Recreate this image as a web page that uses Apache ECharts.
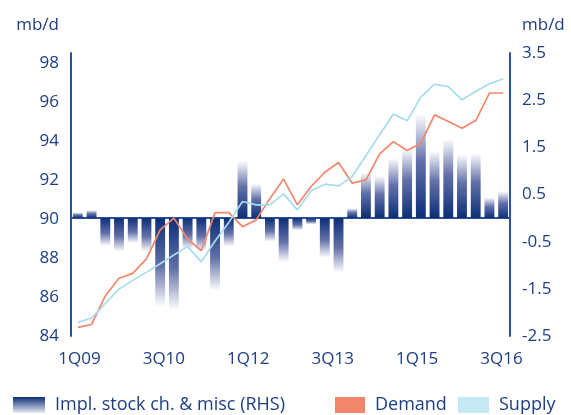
<!DOCTYPE html>
<html>
<head>
<meta charset="utf-8">
<script src="https://cdn.jsdelivr.net/npm/echarts@6/dist/echarts.min.js"></script>
<style>
  body { margin: 0; background: #fff; }
  #main { width: 571px; height: 415px; }
</style>
</head>
<body>
<div id="main"></div>
<script>
var quarters = ['1Q09','2Q09','3Q09','4Q09','1Q10','2Q10','3Q10','4Q10',
                '1Q11','2Q11','3Q11','4Q11','1Q12','2Q12','3Q12','4Q12',
                '1Q13','2Q13','3Q13','4Q13','1Q14','2Q14','3Q14','4Q14',
                '1Q15','2Q15','3Q15','4Q15','1Q16','2Q16','3Q16','4Q16'];

// implied stock change & misc, mb/d (right axis)
var stockChange = [0.12, 0.17, -0.59, -0.71, -0.53, -0.71, -1.88, -1.95,
                   -0.66, -0.70, -1.54, -0.60, 1.21, 0.73, -0.50, -0.93,
                   -0.26, -0.13, -0.84, -1.15, 0.21, 0.97, 0.90, 1.27,
                   1.47, 2.21, 1.43, 1.68, 1.35, 1.38, 0.44, 0.57];

// mb/d (left axis)
var demand = [84.44, 84.59, 86.05, 86.96, 87.21, 87.95, 89.44, 90.04,
              88.97, 88.37, 90.32, 90.32, 89.60, 89.95, 91.05, 92.04,
              90.72, 91.66, 92.39, 92.89, 91.83, 92.00, 93.33, 93.96,
              93.50, 93.88, 95.33, 94.99, 94.65, 95.04, 96.45, 96.45];

var supply = [84.70, 84.92, 85.67, 86.40, 86.85, 87.26, 87.70, 88.15,
              88.58, 87.80, 88.87, 89.82, 90.89, 90.72, 90.72, 91.28,
              90.46, 91.44, 91.78, 91.69, 92.17, 93.25, 94.31, 95.37,
              95.03, 96.24, 96.90, 96.78, 96.10, 96.53, 96.92, 97.18];

var tickLabels = ['1Q09','3Q10','1Q12','3Q13','1Q15','3Q16'];

var navy = '#1d3d85';
var axisColor = '#2c5197';
var barNavy = '#0b2e77';
var demandColor = '#f2866b';
var supplyColor = '#a6dcef';
var font = 'Open Sans';

// label axis: the tick labels sit on their own spacing in the original
var labelAxisData = [];
tickLabels.forEach(function (t, i) {
    labelAxisData.push(t);
    if (i < tickLabels.length - 1) {
        for (var k = 0; k < 4; k++) labelAxisData.push('');
    }
});

function barGradient(v) {
    var stops = [
        {offset: 0, color: barNavy},
        {offset: 0.55, color: '#6371a9'},
        {offset: 1, color: '#ffffff'}
    ];
    if (v >= 0) {
        stops = [
            {offset: 0, color: '#ffffff'},
            {offset: 0.45, color: '#6371a9'},
            {offset: 1, color: barNavy}
        ];
    }
    return new echarts.graphic.LinearGradient(0, 0, 0, 1, stops);
}

var legendText = { fontSize: 18, color: navy, fontFamily: font, padding: [0, 0, 0, 5] };

var myChart = echarts.init(document.getElementById('main'));

var option = {
    animation: false,
    textStyle: { fontFamily: font },
    grid: { left: 71, right: 61, top: 53, bottom: 79 },
    legend: [
        {
            left: 13, top: 396, padding: 0, itemWidth: 32, itemHeight: 16,
            icon: 'rect',
            textStyle: legendText,
            data: ['Impl. stock ch. & misc (RHS)']
        },
        {
            left: 335, top: 396, padding: 0, itemWidth: 30, itemHeight: 16,
            icon: 'rect',
            textStyle: legendText,
            data: [{ name: 'Demand', itemStyle: { color: demandColor } }]
        },
        {
            left: 458, top: 396, padding: 0, itemWidth: 31, itemHeight: 16,
            icon: 'rect',
            textStyle: legendText,
            data: [{ name: 'Supply', itemStyle: { color: '#c6e8f3' } }]
        }
    ],
    xAxis: [
        {
            type: 'category',
            data: quarters,
            boundaryGap: true,
            axisLine: { show: true, lineStyle: { color: axisColor, width: 2 } },
            axisTick: { show: false },
            axisLabel: { show: false },
            splitLine: { show: false }
        },
        {
            type: 'category',
            data: labelAxisData,
            position: 'bottom',
            boundaryGap: true,
            axisLine: { show: false },
            axisTick: { show: false },
            axisLabel: {
                interval: 0,
                margin: 15,
                fontSize: 17,
                color: navy,
                fontFamily: font
            }
        }
    ],
    yAxis: [
        {
            type: 'value',
            position: 'left',
            min: 84,
            max: 98.5,
            interval: 2,
            name: 'mb/d',
            nameLocation: 'end',
            nameGap: 28,
            nameTextStyle: {
                fontSize: 17, color: navy, fontFamily: font,
                align: 'right', verticalAlign: 'middle', padding: [0, 12, 0, 0]
            },
            axisLine: { show: true, lineStyle: { color: axisColor, width: 2 } },
            axisTick: { show: false },
            splitLine: { show: false },
            axisLabel: {
                margin: 12, fontSize: 17, color: navy, fontFamily: font,
                formatter: function (v) { return v % 2 === 0 ? String(v) : ''; }
            }
        },
        {
            type: 'value',
            position: 'right',
            min: -2.5,
            max: 3.5,
            interval: 1,
            name: 'mb/d',
            nameLocation: 'end',
            nameGap: 28,
            nameTextStyle: {
                fontSize: 17, color: navy, fontFamily: font,
                align: 'left', verticalAlign: 'middle', padding: [0, 0, 0, 12]
            },
            axisLine: { show: true, lineStyle: { color: axisColor, width: 2 } },
            axisTick: { show: false },
            splitLine: { show: false },
            axisLabel: {
                margin: 12, fontSize: 17, color: navy, fontFamily: font,
                formatter: function (v) { return v.toFixed(1); }
            }
        }
    ],
    series: [
        {
            name: 'Impl. stock ch. & misc (RHS)',
            type: 'bar',
            yAxisIndex: 1,
            barWidth: '72%',
            itemStyle: {
                color: new echarts.graphic.LinearGradient(0, 0, 0, 1, [
                    {offset: 0, color: barNavy},
                    {offset: 1, color: '#e8ebf4'}
                ])
            },
            data: stockChange.map(function (v) {
                return { value: v, itemStyle: { color: barGradient(v) } };
            }),
            z: 2
        },
        {
            name: 'Demand',
            type: 'line',
            yAxisIndex: 0,
            symbol: 'none',
            lineStyle: { color: demandColor, width: 1.7 },
            itemStyle: { color: demandColor },
            data: demand,
            z: 3
        },
        {
            name: 'Supply',
            type: 'line',
            yAxisIndex: 0,
            symbol: 'none',
            lineStyle: { color: supplyColor, width: 1.7 },
            itemStyle: { color: supplyColor },
            data: supply,
            z: 3
        }
    ]
};
myChart.setOption(option);
</script>
</body>
</html>
